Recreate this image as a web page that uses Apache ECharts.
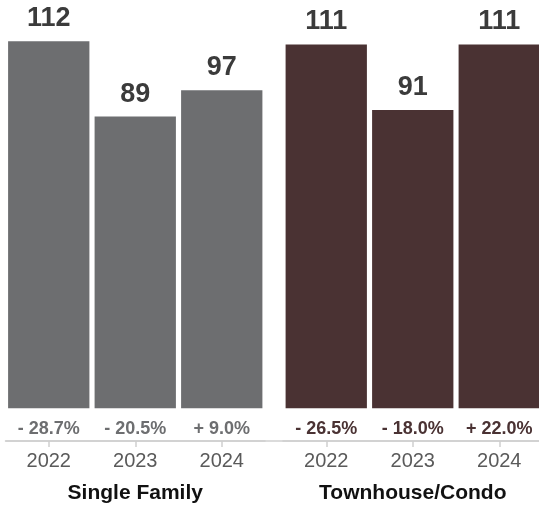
<!DOCTYPE html>
<html>
<head>
<meta charset="utf-8">
<script src="https://cdn.jsdelivr.net/npm/echarts@6/dist/echarts.min.js"></script>
<style>
  html, body { margin: 0; padding: 0; background: #fff; }
  #chart { width: 539px; height: 505px; }
</style>
</head>
<body>
<div id="chart"></div>
<script>
// Closed sales by property type, three years
const years = ['2022', '2023', '2024'];
const groupNames = ['Single Family', 'Townhouse/Condo'];
const singleFamily = [112, 89, 97];
const townhouseCondo = [111, 91, 111];
const singleFamilyChange = ['- 28.7%', '- 20.5%', '+ 9.0%'];
const townhouseCondoChange = ['- 26.5%', '- 18.0%', '+ 22.0%'];

const FONT = '"Liberation Sans", Arial, Helvetica, sans-serif';
const GRAY = '#6d6e70';
const BROWN = '#4a3233';
const RULE = '#cfcfcf';
const TOP = 15, BOTTOM = 64;

const chart = echarts.init(document.getElementById('chart'), null, { renderer: 'canvas' });

function panelAxis(gridIndex, name) {
  return {
    type: 'category', gridIndex, data: years,
    axisLine: { show: true, onZero: false, lineStyle: { color: RULE, width: 1.5 } },
    axisTick: { show: true, alignWithLabel: true, length: 6, lineStyle: { color: RULE, width: 1.5 } },
    axisLabel: { margin: 10, color: '#5a5a5a', fontSize: 20, fontFamily: FONT },
    name, nameLocation: 'middle', nameGap: 42,
    nameTextStyle: { color: '#111', fontSize: 21, fontWeight: 'bold', fontFamily: FONT }
  };
}

function valueAxis(gridIndex) {
  return { type: 'value', gridIndex, min: -10, max: 120, show: false, splitLine: { show: false } };
}

function panelSeries(idx, values, changes, color) {
  return [
    {
      type: 'bar', xAxisIndex: idx, yAxisIndex: idx, data: values,
      barCategoryGap: '6%', itemStyle: { color }, silent: true,
      label: {
        show: true, position: 'top', distance: 9,
        color: '#3b3b3b', fontSize: 27, fontWeight: 'bold', fontFamily: FONT
      }
    },
    {
      // transparent twin bars carrying the year-over-year change below each bar
      type: 'bar', xAxisIndex: idx, yAxisIndex: idx, data: values,
      barCategoryGap: '6%', barGap: '-100%', silent: true,
      itemStyle: { color: 'rgba(0,0,0,0)' },
      label: {
        show: true, position: 'bottom', distance: 12,
        formatter: p => changes[p.dataIndex],
        color, fontSize: 18, fontWeight: 'bold', fontFamily: FONT
      }
    }
  ];
}

const gridBase = { top: TOP, bottom: BOTTOM, containLabel: false, outerBoundsMode: 'none' };

chart.setOption({
  animation: false,
  grid: [
    { ...gridBase, left: 5.5, width: 259.5 },
    { ...gridBase, left: 283, width: 259.5 },
    { ...gridBase, left: 6, right: 0 }
  ],
  xAxis: [
    panelAxis(0, groupNames[0]),
    panelAxis(1, groupNames[1]),
    {
      // shared baseline running under both panels
      type: 'category', gridIndex: 2, data: [''],
      axisLine: { show: true, onZero: false, lineStyle: { color: RULE, width: 1.5 } },
      axisTick: { show: false }, axisLabel: { show: false }
    }
  ],
  yAxis: [valueAxis(0), valueAxis(1), valueAxis(2)],
  series: [
    ...panelSeries(0, singleFamily, singleFamilyChange, GRAY),
    ...panelSeries(1, townhouseCondo, townhouseCondoChange, BROWN)
  ]
});
</script>
</body>
</html>
